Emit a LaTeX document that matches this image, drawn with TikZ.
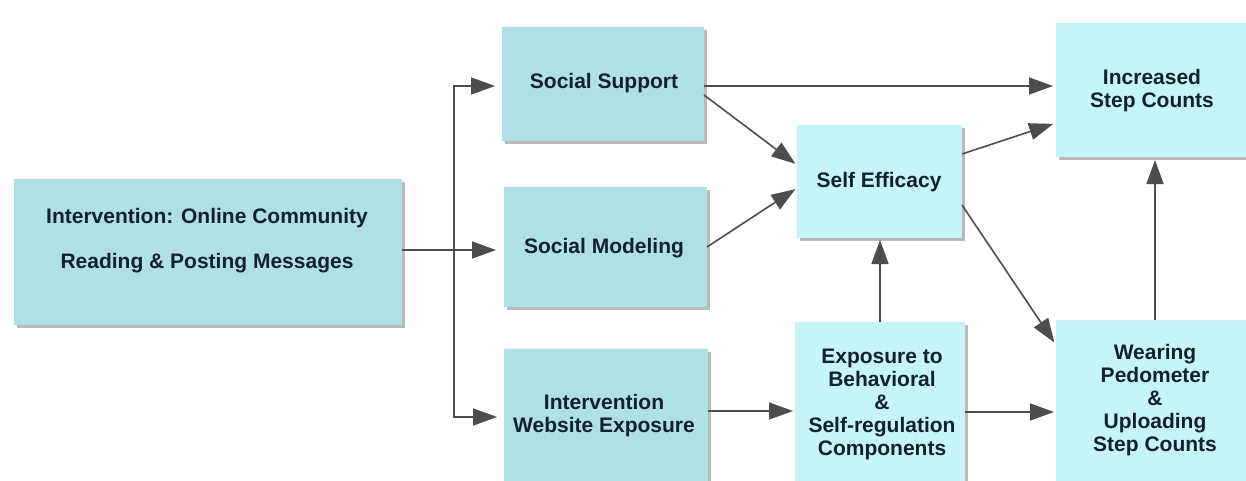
\documentclass[tikz,border=0pt]{standalone}
\usepackage{fontspec}
\setmainfont{Liberation Sans}
\usetikzlibrary{arrows.meta,shadows}
\definecolor{boxA}{HTML}{AEE0E6}
\definecolor{boxB}{HTML}{C6F5F9}
\definecolor{txt}{HTML}{132229}
\definecolor{arrc}{HTML}{4D4D4D}
\tikzset{
 box/.style={draw=none, inner sep=0pt, outer sep=0pt, drop shadow={shadow xshift=3pt, shadow yshift=-3pt, fill=black!45, opacity=0.6}},
 boxa/.style={box, fill=boxA},
 boxb/.style={box, fill=boxB},
 lbl/.style={text=txt, font=\bfseries\fontsize{21}{23}\selectfont, align=center, inner sep=0pt},
 arr/.style={draw=arrc, line width=1.6pt, -{Triangle[length=24pt,width=17pt]}, shorten >=2pt},
}
\begin{document}
\begin{tikzpicture}[x=1pt,y=-1pt]
\useasboundingbox (0,0) rectangle (1246,481);
\fill[white] (0,0) rectangle (1246,481);
\clip (0,0) rectangle (1246,481);
% boxes
\node[boxa, minimum width=388pt, minimum height=146pt] (intv) at (208,252) {};
\node[boxa, minimum width=202pt, minimum height=114pt] (ss) at (603,84) {};
\node[boxa, minimum width=203pt, minimum height=120pt] (sm) at (605.5,247) {};
\node[boxa, minimum width=204pt, minimum height=146pt] (iwe) at (606,422) {};
\node[boxb, minimum width=165pt, minimum height=113pt] (se) at (879.5,181.5) {};
\node[boxb, minimum width=170pt, minimum height=173pt] (exp) at (880,408.5) {};
\node[boxb, minimum width=198pt, minimum height=134pt] (inc) at (1155,90) {};
\node[boxb, minimum width=198pt, minimum height=175pt] (wear) at (1155,407.5) {};
% labels
\node[lbl] (t1) at (207,241) {Intervention: Online Community\\[22pt]Reading \& Posting Messages};
\node[lbl] (t2) at (604,83) {Social Support};
\node[lbl] (t3) at (604,248) {Social Modeling};
\node[lbl] (t4) at (604,416) {Intervention\\Website Exposure};
\node[lbl] (t5) at (879,182) {Self Efficacy};
\node[lbl] (t6) at (882,404) {Exposure to\\Behavioral\\\&\\Self-regulation\\Components};
\node[lbl] (t7) at (1152,91) {Increased\\Step Counts};
\node[lbl] (t8) at (1155,400) {Wearing\\Pedometer\\\&\\Uploading\\Step Counts};
% connectors
\coordinate (jn) at (454,250);
\draw[arr, shorten >=8pt] (intv.east |- jn) -- (sm.west |- jn);
\draw[arr, shorten >=7pt] (jn) |- ([yshift=-2pt]ss.west);
\draw[arr, shorten >=7pt] (jn) |- ([yshift=5pt]iwe.west);
\draw[arr, shorten >=3pt] ([yshift=-2pt]ss.east) -- ([yshift=-2pt]ss.east -| inc.west);
\draw[arr] ([yshift=-11pt]ss.east) -- ([yshift=16.5pt]se.west);
\draw[arr] (sm.east) -- ([yshift=-6.5pt]se.west);
\draw[arr, shorten >=3pt] ([yshift=27.5pt]se.east) -- ([yshift=-33pt]inc.west);
\draw[arr, shorten >=3pt] ([yshift=-23.5pt]se.east) -- ([yshift=62.5pt]wear.west);
\draw[arr] (exp.north) -- (exp.north |- se.south);
\draw[arr] ([yshift=-3.5pt]exp.east) -- ([yshift=-3.5pt]exp.east -| wear.west);
\draw[arr, shorten >=3pt] (wear.north) -- (wear.north |- inc.south);
\draw[arr] ([yshift=11pt]iwe.east) -- ([yshift=11pt]iwe.east -| exp.west);
\end{tikzpicture}
\end{document}
